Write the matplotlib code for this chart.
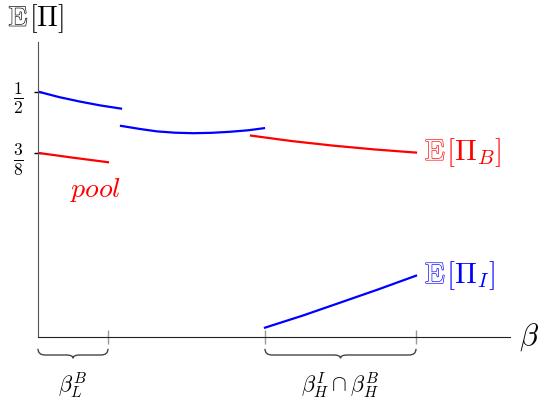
import numpy as np
import matplotlib
matplotlib.use('Agg')
from matplotlib import pyplot as plt
from matplotlib.path import Path
from matplotlib.patches import PathPatch
from matplotlib.offsetbox import TextArea, HPacker, AnnotationBbox
import matplotlib.patheffects as pe
import matplotlib.transforms as mtransforms

plt.rcParams['mathtext.fontset'] = 'cm'
plt.rcParams['font.family'] = 'DejaVu Serif'

# значения (x - beta, y - ожидаемая прибыль)
blue1_x = [0.0, 0.21, 0.42, 0.62, 0.83]
blue1_y = [0.500, 0.4888, 0.4796, 0.4719, 0.4653]
blue2_x = [0.83, 1.02, 1.19, 1.37, 1.55, 1.74, 1.92, 2.10, 2.26]
blue2_y = [0.4301, 0.4238, 0.4189, 0.4162, 0.4152, 0.4160, 0.4181, 0.4211, 0.4254]
blue3_x = [2.27, 2.65, 3.02, 3.40, 3.78]
blue3_y = [0.0190, 0.0438, 0.0699, 0.0968, 0.1249]
red1_x = [0.0, 0.35, 0.70]
red1_y = [0.3751, 0.3653, 0.3561]
red2_x = [2.13, 2.54, 2.95, 3.36, 3.78]
red2_y = [0.4103, 0.3991, 0.3899, 0.3822, 0.3757]

xticks = [0.70, 2.27, 3.78]
yticks = [3 / 8, 1 / 2]
ytick_labels = [r'$\frac{3}{8}$', r'$\frac{1}{2}$']
brace_spans = [(0.0, 0.70), (2.27, 3.78)]
brace_labels = [r'$\beta_L^B$', r'$\beta_H^I\cap\beta_H^B$']


def exp_label(ax, xy, rest, color, size, xycoords='data', align=(0.0, 0.5)):
    # "ажурная" E: контур обычной E из Computer Modern
    e = TextArea(r'$\mathrm{E}$', textprops=dict(
        color='white', fontsize=size,
        path_effects=[pe.Stroke(linewidth=0.9, foreground=color), pe.Normal()]))
    t = TextArea(rest, textprops=dict(color=color, fontsize=size))
    box = HPacker(children=[e, t], align='baseline', pad=0, sep=0)
    ab = AnnotationBbox(box, xy, xycoords=xycoords, box_alignment=align,
                        frameon=False, pad=0, annotation_clip=False)
    ax.add_artist(ab)


fig = plt.figure(figsize=(5.38, 4.03), dpi=100)
ax = fig.add_axes([38 / 538, 66 / 403, 472 / 538, 295 / 403])
ax.set_xlim(0, 4.72)
ax.set_ylim(0, 0.601)

for s in ['top', 'right']:
    ax.spines[s].set_visible(False)
ax.spines['left'].set_color('#555555')
ax.spines['bottom'].set_color('#222222')

ax.plot(blue1_x, blue1_y, color='blue', lw=1.6)
ax.plot(blue2_x, blue2_y, color='blue', lw=1.6)
ax.plot(blue3_x, blue3_y, color='blue', lw=1.6)
ax.plot(red1_x, red1_y, color='red', lw=1.6)
ax.plot(red2_x, red2_y, color='red', lw=1.6)

ax.set_xticks(xticks)
ax.set_xticklabels([])
ax.tick_params(axis='x', direction='inout', length=10, color='#999999', width=1)
ax.set_yticks(yticks)
ax.set_yticklabels(ytick_labels, fontsize=18)
ax.tick_params(axis='y', direction='inout', length=6, color='black', width=1, pad=7)

# подписи
exp_label(ax, (3.87, red2_y[-1]), r'$[\Pi_B]$', 'red', 21)
exp_label(ax, (3.87, blue3_y[-1]), r'$[\Pi_I]$', 'blue', 21)
exp_label(ax, (-0.004, 1.08), r'$[\Pi]$', 'black', 20, xycoords='axes fraction', align=(0.5, 0.5))
ax.text(0.32, 0.30, r'$pool$', color='red', fontsize=20, ha='left', va='center')
ax.text(1.04, 0.0, r'$\beta$', transform=ax.transAxes, fontsize=22, ha='center', va='center')

# фигурные скобки под осью
trans = mtransforms.blended_transform_factory(ax.transData, ax.transAxes)
top, mid, bot = -0.04, -0.061, -0.072
r = 0.07
for (x0, x1), lab in zip(brace_spans, brace_labels):
    xm = (x0 + x1) / 2
    verts = [(x0, top), (x0, mid), (x0 + r, mid),
             (xm - r, mid), (xm, mid), (xm, bot),
             (xm, mid), (xm + r, mid),
             (x1 - r, mid), (x1, mid), (x1, top)]
    codes = [Path.MOVETO, Path.CURVE3, Path.CURVE3,
             Path.LINETO, Path.CURVE3, Path.CURVE3,
             Path.CURVE3, Path.CURVE3,
             Path.LINETO, Path.CURVE3, Path.CURVE3]
    ax.add_patch(PathPatch(Path(verts, codes), transform=trans, fill=False,
                           edgecolor='#444444', lw=1, clip_on=False))
    ax.text(xm, -0.162, lab, transform=trans, fontsize=16, ha='center', va='center')

fig.savefig('out.png', dpi=100)
